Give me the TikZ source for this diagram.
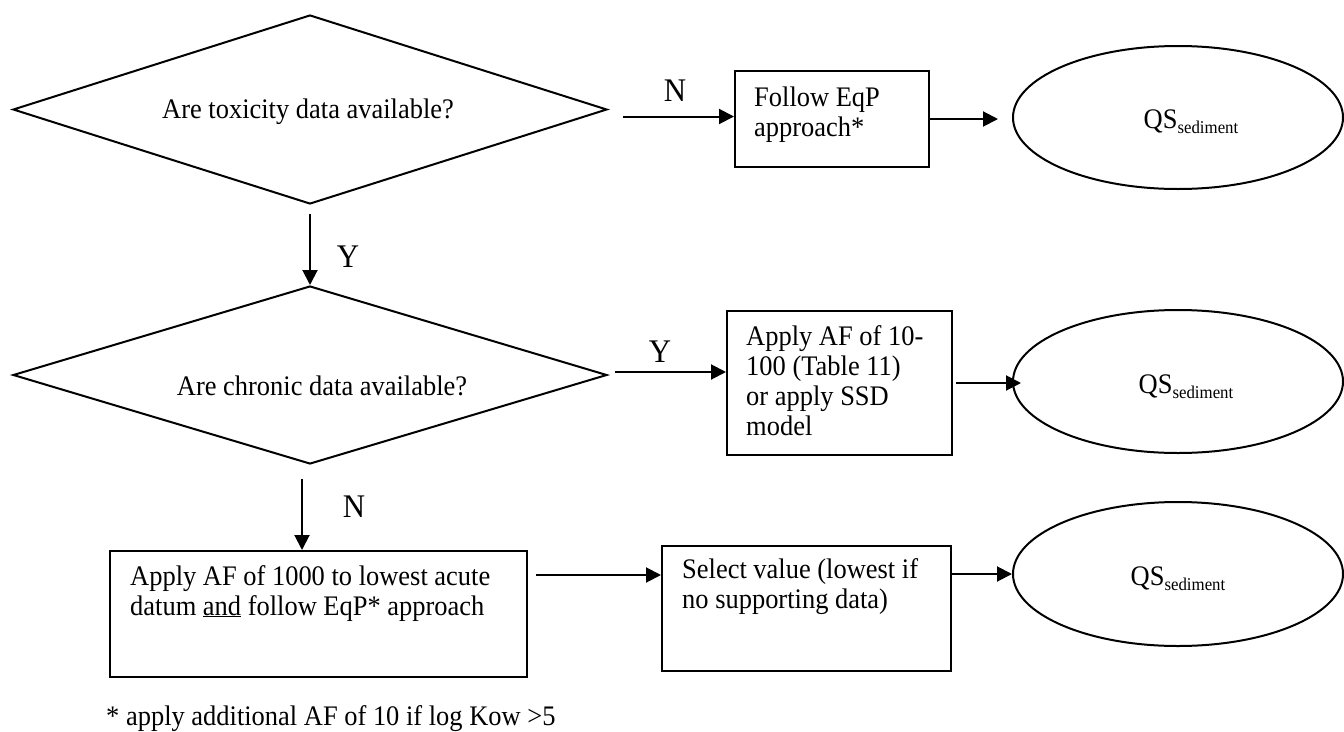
\documentclass[tikz,border=0pt]{standalone}
\usepackage{fontspec}
\setmainfont{Liberation Serif}[FakeStretch=0.935]
\usetikzlibrary{shapes.geometric,arrows.meta}
\newcommand{\boxtext}[1]{\parbox[t]{420pt}{\raggedright #1}}
\newcommand{\qssed}{QS\raisebox{-5pt}{\fontsize{18}{18}\selectfont sediment}}
\begin{document}
\begin{tikzpicture}[x=1pt,y=-1pt,
  every node/.style={font=\fontsize{28.3}{30}\selectfont},
  dec/.style={draw, diamond, line width=2pt, inner sep=0pt},
  stepbox/.style={draw, rectangle, line width=2pt, inner sep=0pt, anchor=north west},
  oval/.style={draw, ellipse, line width=2pt, inner sep=0pt},
  txt/.style={inner sep=0pt, anchor=base west},
  ctxt/.style={inner sep=0pt, anchor=base},
  yn/.style={inner sep=0pt, font=\fontsize{33}{33}\selectfont},
  arr/.style={line width=2pt, -{Triangle[length=15pt,width=15pt]}}]
\useasboundingbox (0,0) rectangle (1344,731);

% decisions
\node[dec, minimum width=594pt, minimum height=189pt] (d1) at (310,109.5) {};
\node[ctxt] (d1t) at (308,118) {Are toxicity data available?};
\node[dec, minimum width=594pt, minimum height=178pt] (d2) at (310,375) {};
\node[ctxt] (d2t) at (322,395) {Are chronic data available?};

% boxes
\node[stepbox, minimum width=194pt, minimum height=96pt] (b1) at (734,70) {};
\node[txt] (b1t) at (754,106) {\boxtext{Follow EqP\\approach*}};
\node[stepbox, minimum width=225pt, minimum height=144pt] (b2) at (726,310) {};
\node[txt] (b2t) at (746,345) {\boxtext{Apply AF of 10-\\100 (Table 11)\\or apply SSD\\model}};
\node[stepbox, minimum width=417pt, minimum height=126pt] (b3) at (109,550) {};
\node[txt] (b3t) at (130,585) {\boxtext{Apply AF of 1000 to lowest acute\\datum \underline{and} follow EqP* approach}};
\node[stepbox, minimum width=289pt, minimum height=125pt] (b4) at (661,545) {};
\node[txt] (b4t) at (682,578) {\boxtext{Select value (lowest if\\no supporting data)}};

% results
\node[oval, minimum width=330pt, minimum height=143pt] (e1) at (1178,117.5) {};
\node[ctxt] (q1) at (1191,128) {\qssed};
\node[oval, minimum width=330pt, minimum height=143pt] (e2) at (1178,381.5) {};
\node[ctxt] (q2) at (1186,393) {\qssed};
\node[oval, minimum width=330pt, minimum height=144pt] (e3) at (1178,574) {};
\node[ctxt] (q3) at (1178,585) {\qssed};

% branch labels
\node[yn] (lN1) at (675,91) {N};
\node[yn] (lY1) at (348,257) {Y};
\node[yn] (lY2) at (660,352) {Y};
\node[yn] (lN2) at (354,507) {N};

% footnote
\node[txt] (fn) at (106,725) {* apply additional AF of 10 if log Kow >5};

% connectors
\path ([shift={(15,7)}]d1.east) coordinate (n1s);
\draw[arr] (n1s) -- (n1s -| b1.west);
\draw[arr, shorten >=14pt] (b1.east) -- (b1.east -| e1.west);
\draw[arr, shorten <=9pt] (d1.south) -- (d2.north);
\path ([shift={(7,-3)}]d2.east) coordinate (y2s);
\draw[arr] (y2s) -- (y2s -| b2.west);
\draw[arr, shorten <=3pt, shorten >=-9pt] (b2.east) -- (b2.east -| e2.west);
\path ([shift={(-8,14)}]d2.south) coordinate (n2s);
\draw[arr] (n2s) -- (n2s |- b3.north);
\path ([shift={(8,-39)}]b3.east) coordinate (a34);
\draw[arr] (a34) -- (a34 -| b4.west);
\draw[arr] (e3.west -| b4.east) -- (e3.west);
\end{tikzpicture}
\end{document}
